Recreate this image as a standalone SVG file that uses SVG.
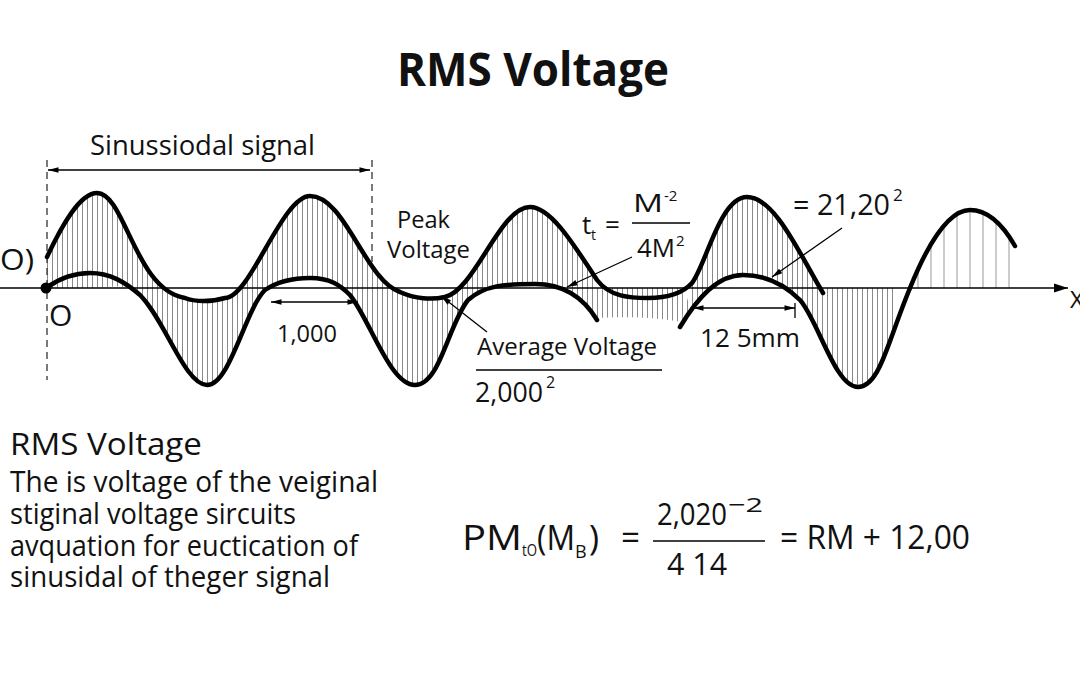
<svg xmlns="http://www.w3.org/2000/svg" width="1080" height="675" viewBox="0 0 1080 675">
<style>
.t{font-family:"Open Sans","Liberation Sans",sans-serif;fill:#111}
.curve{fill:none;stroke:#000;stroke-width:4.5;stroke-linecap:round;stroke-linejoin:round}
.thin{fill:none;stroke:#000;stroke-width:1.3}
.dash{fill:none;stroke:#333;stroke-width:1.3;stroke-dasharray:7 5}
</style>
<defs>
<pattern id="h5" width="5" height="10" patternUnits="userSpaceOnUse"><line x1="2.5" y1="0" x2="2.5" y2="10" stroke="#8a8a8a" stroke-width="1"/></pattern>
<pattern id="h13" x="2" width="13" height="10" patternUnits="userSpaceOnUse"><line x1="6" y1="0" x2="6" y2="10" stroke="#999" stroke-width="1"/></pattern>
<marker id="ah" viewBox="0 0 12 8" refX="12" refY="4" markerWidth="12" markerHeight="7" orient="auto-start-reverse" markerUnits="userSpaceOnUse"><path d="M0,0.8 L12,4 L0,7.2 z" fill="#000"/></marker>
<marker id="ax" viewBox="0 0 14 10" refX="14" refY="5" markerWidth="14" markerHeight="10" orient="auto" markerUnits="userSpaceOnUse"><path d="M0,0.5 L14,5 L0,9.5 z" fill="#000"/></marker>
</defs>
<rect width="1080" height="675" fill="#fff"/>

<g id="title"><text class="t" x="397" y="86" font-size="46" font-weight="bold" textLength="272" lengthAdjust="spacingAndGlyphs">RMS Voltage</text></g>

<g id="hatching">
<path fill="url(#h5)" d="M47,257 C62,225 80,193 97,193 C125,193 135,290 185,298 C195,302 212,302 225,298 C250,298 282,196 310,196 C345,196 365,280 400,292 C415,299 432,300 445,297 C475,290 500,207 530,207 C552,207 577,250 597,280 L597,320 C582,295 560,284 535,284 C505,284 485,285 468,300 C448,325 440,385 415,385 C390,385 370,320 350,295 C340,285 330,278 310,278 C295,278 280,280 265,290 C245,310 230,385 207,385 C185,385 165,320 140,295 C125,282 110,288 90,288 L46,288 Z"/>
<path fill="url(#h5)" d="M597,288 L686,288 L682,322 C660,318 630,316 597,318 Z"/>
<path fill="url(#h5)" d="M692,283 C706,265 720,197 747,197 C775,197 800,255 823,293 L823,288 L893,288 L893,333 C884,357 875,387 858,387 C835,387 818,320 800,300 C785,285 765,275 743,275 C718,275 698,297 680,327 Z"/>
<path fill="url(#h13)" d="M913,288 C925,250 945,210 970,210 C988,210 1003,225 1010,238 L1010,288 Z"/>
</g>

<g id="axes">
<line class="thin" x1="0" y1="288" x2="1068" y2="288" marker-end="url(#ax)"/>
<line class="dash" x1="47" y1="160" x2="47" y2="380"/>
<line class="dash" x1="372" y1="160" x2="372" y2="262"/>
<circle cx="46" cy="288" r="5.5" fill="#000"/>
</g>

<g id="curves">
<path class="curve" d="M47,257 C62,225 80,193 97,193 C125,193 135,290 185,298 C195,302 212,302 225,298 C250,298 282,196 310,196 C345,196 365,280 400,292 C415,299 432,300 445,297 C475,290 500,207 530,207 C552,207 577,250 597,280 C610,297 630,298 648,298 C668,298 682,294 692,283 C706,265 720,197 747,197 C775,197 800,255 823,293"/>
<path class="curve" d="M46,288 C60,278 75,273 90,273 C110,273 125,282 140,295 C165,320 185,385 207,385 C230,385 245,310 265,290 C280,280 295,278 310,278 C330,278 340,285 350,295 C370,320 390,385 415,385 C440,385 448,325 468,300 C485,285 505,284 535,284 C560,284 582,295 597,320"/>
<path class="curve" d="M680,327 C698,297 718,275 743,275 C765,275 785,285 800,300 C818,320 835,387 858,387 C875,387 884,357 893,333 C905,300 935,210 970,210 C988,210 1003,225 1015,246"/>
</g>

<g id="connectors">
<line class="thin" x1="48" y1="170" x2="370" y2="170" marker-start="url(#ah)" marker-end="url(#ah)"/>
<line class="thin" x1="271" y1="302" x2="358" y2="302" marker-start="url(#ah)" marker-end="url(#ah)"/>
<line class="thin" x1="693" y1="308" x2="795" y2="308" marker-start="url(#ah)" marker-end="url(#ah)"/>
<line class="thin" x1="795" y1="303" x2="795" y2="318"/>
<line class="thin" x1="632" y1="257" x2="567" y2="287" marker-end="url(#ah)"/>
<line class="thin" x1="487" y1="332" x2="441" y2="296" marker-end="url(#ah)"/>
<line class="thin" x1="842" y1="228" x2="772" y2="277" marker-end="url(#ah)"/>
<line class="thin" x1="632" y1="223" x2="690" y2="223"/>
<line class="thin" x1="476" y1="370" x2="662" y2="370"/>
<line class="thin" x1="653" y1="541" x2="765" y2="541"/>
</g>

<g id="labels">
<text class="t" x="90" y="155" font-size="28" textLength="225" lengthAdjust="spacingAndGlyphs">Sinussiodal signal</text>
<text class="t" x="0" y="270" font-size="30" textLength="34" lengthAdjust="spacingAndGlyphs">O)</text>
<text class="t" x="49" y="326" font-size="30">O</text>
<text class="t" x="277" y="342" font-size="24" textLength="60" lengthAdjust="spacingAndGlyphs">1,000</text>
<text class="t" x="397" y="228" font-size="24" textLength="53" lengthAdjust="spacingAndGlyphs">Peak</text>
<text class="t" x="387" y="258" font-size="24" textLength="83" lengthAdjust="spacingAndGlyphs">Voltage</text>
<text class="t" x="582" y="234" font-size="26">t</text>
<text class="t" x="591" y="240" font-size="14">t</text>
<text class="t" x="605" y="234" font-size="26">=</text>
<text class="t" x="633" y="212" font-size="26" textLength="30" lengthAdjust="spacingAndGlyphs">M</text>
<text class="t" x="664" y="201" font-size="15">-2</text>
<text class="t" x="637" y="257" font-size="26" textLength="38" lengthAdjust="spacingAndGlyphs">4M</text>
<text class="t" x="676" y="246" font-size="15">2</text>
<text class="t" x="477" y="355" font-size="24" textLength="180" lengthAdjust="spacingAndGlyphs">Average Voltage</text>
<text class="t" x="475" y="402" font-size="27" textLength="68" lengthAdjust="spacingAndGlyphs">2,000</text>
<text class="t" x="546" y="388" font-size="16">2</text>
<text class="t" x="793" y="215" font-size="29" textLength="97" lengthAdjust="spacingAndGlyphs">= 21,20</text>
<text class="t" x="893" y="201" font-size="17">2</text>
<text class="t" x="700" y="347" font-size="26" textLength="100" lengthAdjust="spacingAndGlyphs">12 5mm</text>
<text class="t" x="1070" y="308" font-size="24">X</text>
</g>

<g id="description">
<text class="t" x="10" y="455" font-size="31" textLength="192" lengthAdjust="spacingAndGlyphs">RMS Voltage</text>
<text class="t" x="10" y="492" font-size="29" textLength="368" lengthAdjust="spacingAndGlyphs">The is voltage of the veiginal</text>
<text class="t" x="10" y="524" font-size="29" textLength="286" lengthAdjust="spacingAndGlyphs">stiginal voltage sircuits</text>
<text class="t" x="10" y="556" font-size="29" textLength="348" lengthAdjust="spacingAndGlyphs">avquation for euctication of</text>
<text class="t" x="10" y="587" font-size="29" textLength="320" lengthAdjust="spacingAndGlyphs">sinusidal of theger signal</text>
</g>

<g id="formula">
<text class="t" x="462" y="550" font-size="34" textLength="60" lengthAdjust="spacingAndGlyphs">PM</text>
<text class="t" x="522" y="556" font-size="17" textLength="15" lengthAdjust="spacingAndGlyphs">tO</text>
<text class="t" x="537" y="550" font-size="34" textLength="38" lengthAdjust="spacingAndGlyphs">(M</text>
<text class="t" x="575" y="558" font-size="18">B</text>
<text class="t" x="589" y="550" font-size="34">)</text>
<text class="t" x="621" y="550" font-size="34" textLength="19" lengthAdjust="spacingAndGlyphs">=</text>
<text class="t" x="657" y="525" font-size="31" textLength="70" lengthAdjust="spacingAndGlyphs">2,020</text>
<text class="t" x="728" y="512" font-size="20" textLength="35" lengthAdjust="spacingAndGlyphs">−2</text>
<text class="t" x="667" y="575" font-size="31" textLength="60" lengthAdjust="spacingAndGlyphs">4 14</text>
<text class="t" x="780" y="549" font-size="32" textLength="190" lengthAdjust="spacingAndGlyphs">= RM + 12,00</text>
</g>
</svg>
